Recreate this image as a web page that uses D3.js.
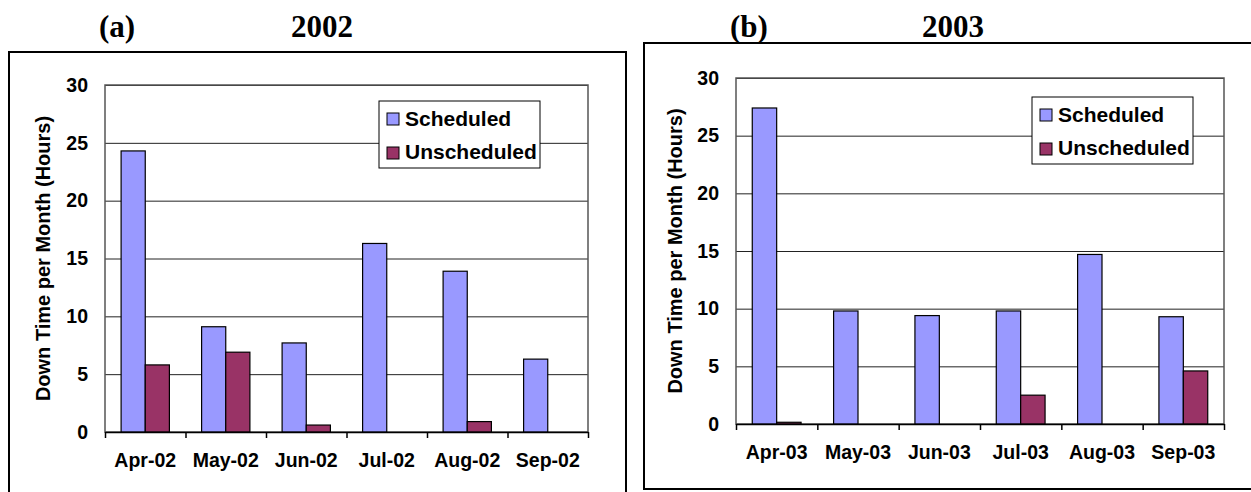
<!DOCTYPE html>
<html>
<head>
<meta charset="utf-8">
<script src="https://cdn.jsdelivr.net/npm/d3@7"></script>
<style>
  body { margin: 0; background: #fff; }
  text { font-family: Arial, "Liberation Sans", sans-serif; font-weight: bold; }
  .ttl { font-family: "Times New Roman", "Liberation Serif", serif; font-weight: bold; }
</style>
</head>
<body>
<div id="chart"></div>
<script>
// data
var series = ["Scheduled", "Unscheduled"];
var colores = ["#9999FF", "#993366"];
var yTicks = [0, 5, 10, 15, 20, 25, 30];

var meses02 = ["Apr-02", "May-02", "Jun-02", "Jul-02", "Aug-02", "Sep-02"];
var sched02 = [24.3, 9.1, 7.7, 16.3, 13.9, 6.3];
var unsched02 = [5.8, 6.9, 0.6, 0, 0.9, 0];

var meses03 = ["Apr-03", "May-03", "Jun-03", "Jul-03", "Aug-03", "Sep-03"];
var sched03 = [27.4, 9.8, 9.4, 9.8, 14.7, 9.3];
var unsched03 = [0.15, 0, 0, 2.5, 0, 4.6];

var svg = d3.select("#chart").append("svg").attr("width", 1251).attr("height", 492);

function Panel(p) {
    // caja exterior
    svg.append("rect")
        .attr("x", p.box[0]).attr("y", p.box[1])
        .attr("width", p.box[2]).attr("height", p.box[3])
        .attr("fill", "none").attr("stroke", "#000").attr("stroke-width", 2);

    svg.append("text").attr("class", "ttl").attr("x", p.letraX).attr("y", p.tituloY)
        .attr("text-anchor", "middle").attr("font-size", 31).text(p.letra);
    svg.append("text").attr("class", "ttl").attr("x", p.anioX).attr("y", p.tituloY)
        .attr("text-anchor", "middle").attr("font-size", 31).text(p.anio);

    var width = p.right - p.left;
    var height = p.bottom - p.top;
    var g = svg.append("g").attr("transform", "translate(" + p.left + "," + p.top + ")");

    var datos = p.meses.map(function (m, i) {
        return { mes: m, valores: [p.sched[i], p.unsched[i]] };
    });

    var x0 = d3.scaleBand().domain(p.meses).range([0, width]);
    var bw = x0.bandwidth();
    var x1 = d3.scaleBand().domain(series).range([bw * 0.2, bw * 0.8]);
    var y = d3.scaleLinear().domain([0, 30]).range([height, 0]);

    // grid
    g.append("g")
        .call(d3.axisLeft(y).tickValues(yTicks).tickSize(-width).tickFormat(""))
        .call(function (a) { a.select(".domain").remove(); })
        .selectAll("line").attr("stroke", "#222").attr("stroke-width", 1);

    // plot border
    g.append("rect").attr("width", width).attr("height", height)
        .attr("fill", "none").attr("stroke", "#555").attr("stroke-width", 1.5);

    // y labels
    g.append("g")
        .call(d3.axisLeft(y).tickValues(yTicks).tickSize(0).tickPadding(17))
        .call(function (a) { a.select(".domain").remove(); })
        .selectAll("text").attr("font-size", 19.5).attr("fill", "#000");

    // bars
    g.selectAll(".grupo")
        .data(datos)
        .enter().append("g")
        .attr("class", "grupo")
        .attr("transform", function (d) { return "translate(" + x0(d.mes) + ",0)"; })
        .selectAll("rect")
        .data(function (d) { return d.valores.map(function (v, i) { return { s: series[i], v: v, c: colores[i] }; }); })
        .enter().append("rect")
        .attr("x", function (d) { return x1(d.s); })
        .attr("y", function (d) { return y(d.v); })
        .attr("width", x1.bandwidth())
        .attr("height", function (d) { return height - y(d.v); })
        .attr("fill", function (d) { return d.c; })
        .attr("stroke", "#000").attr("stroke-width", 1.2);

    // ticks at category edges
    var xi = d3.scaleLinear().domain([0, p.meses.length]).range([0, width]);
    g.append("g")
        .attr("transform", "translate(0," + height + ")")
        .call(d3.axisBottom(xi).ticks(p.meses.length).tickSize(6).tickSizeOuter(0).tickFormat(""))
        .selectAll("line,path").attr("stroke", "#000").attr("stroke-width", 1.5);

    // x labels
    g.append("g")
        .attr("transform", "translate(0," + height + ")")
        .call(d3.axisBottom(x0).tickSize(0).tickPadding(21))
        .call(function (a) { a.select(".domain").remove(); })
        .selectAll("text").attr("font-size", 19.5).attr("fill", "#000");

    // y title
    svg.append("text")
        .attr("transform", "translate(" + p.yTitX + "," + (p.top + height / 2) + ") rotate(-90)")
        .attr("text-anchor", "middle").attr("dy", "0.35em")
        .attr("font-size", 20)
        .text("Down Time per Month (Hours)");

    // legend
    var lg = svg.append("g").attr("transform", "translate(" + p.leg[0] + "," + p.leg[1] + ")");
    lg.append("rect").attr("width", 161).attr("height", 67)
        .attr("fill", "#fff").attr("stroke", "#000").attr("stroke-width", 1);
    series.forEach(function (s, i) {
        lg.append("rect").attr("x", 8).attr("y", 12 + i * 34).attr("width", 12).attr("height", 12)
            .attr("fill", colores[i]).attr("stroke", "#000").attr("stroke-width", 1);
        lg.append("text").attr("x", 26).attr("y", 25 + i * 33).attr("font-size", 21).text(s);
    });
}

Panel({
    box: [9, 52, 617, 460], letra: "(a)", anio: "2002", letraX: 117, anioX: 322, tituloY: 37,
    left: 105, right: 588, top: 85, bottom: 432, yTitX: 43, leg: [379, 101],
    meses: meses02, sched: sched02, unsched: unsched02
});
Panel({
    box: [644, 43, 630, 446], letra: "(b)", anio: "2003", letraX: 749, anioX: 953, tituloY: 37,
    left: 736, right: 1224, top: 78, bottom: 424, yTitX: 675, leg: [1032, 97],
    meses: meses03, sched: sched03, unsched: unsched03
});
</script>
</body>
</html>
